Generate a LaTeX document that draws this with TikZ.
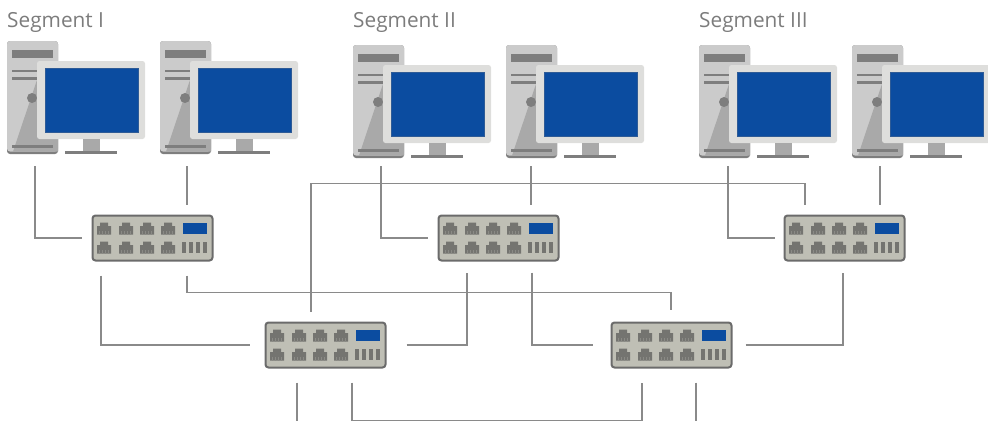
\documentclass[tikz,border=0pt]{standalone}
\usepackage{fontspec}
\setmainfont{Open Sans}
\usetikzlibrary{calc}
\definecolor{wire}{HTML}{8A8A8A}
\definecolor{seglabel}{HTML}{7C7C7C}
\definecolor{towerlight}{HTML}{CBCBCB}
\definecolor{towerdark}{HTML}{A9A9A9}
\definecolor{bardark}{HTML}{7E7E7E}
\definecolor{bezel}{HTML}{DEDEDC}
\definecolor{screenblue}{HTML}{0B4CA0}
\definecolor{swfill}{HTML}{BFBFB5}
\definecolor{swedge}{HTML}{6B6B6B}
\definecolor{portgray}{HTML}{747470}
\tikzset{
  wirepath/.style={draw=wire,line width=1.3pt},
  seglabeltext/.style={text=seglabel,font=\fontsize{20.8}{24}\selectfont,anchor=base west,inner sep=0pt},
  towerbase/.style={fill=bardark,rounded corners=3pt,minimum width=51pt,minimum height=113pt,inner sep=0pt,draw=none},
  switchbox/.style={fill=swfill,draw=swedge,line width=2pt,rounded corners=3pt,minimum width=120pt,minimum height=45pt,inner sep=0pt},
  monitorbox/.style={fill=bezel,rounded corners=2.5pt,minimum width=108pt,minimum height=78pt,inner sep=0pt},
  screenbox/.style={fill=screenblue,draw=screenblue!70!gray,line width=.6pt,minimum width=93pt,minimum height=64pt,inner sep=0pt},
  lcdbox/.style={fill=screenblue,minimum width=24pt,minimum height=11pt,inner sep=0pt},
}
\newcommand{\portglyph}[2]{%
  \fill[portgray] (#1-4,#2-6.5) -- (#1+4,#2-6.5) -- (#1+4,#2-3) -- (#1+7,#2-3) -- (#1+7,#2+5.5) -- (#1-7,#2+5.5) -- (#1-7,#2-3) -- (#1-4,#2-3) -- cycle;
  \foreach \pinx in {-4.5,-1.5,1.5,4.5}{\draw[swfill!30!portgray,line width=.4pt] (#1+\pinx,#2+2) -- (#1+\pinx,#2+5.5);}
}
\newcommand{\computerpic}[3]{%
  \begin{scope}[shift={(#2,#3)}]
    \node[towerbase] (#1) at (25.5,56.5) {};
    \fill[towerlight,rounded corners=3pt] (0,0) rectangle (51,110.5);
    \fill[towerdark] (30,39) -- (6,110.5) -- (51,110.5) -- (51,39) -- cycle;
    \fill[bardark] (5,9) rectangle (46,17);
    \fill[bardark] (5,29) rectangle (30,31);
    \fill[bardark] (5,36) rectangle (30,38.5);
    \fill[bardark] (25,57) circle[radius=5];
    \fill[bardark] (5,104) rectangle (46,106.5);
    \node[monitorbox] (#1m) at (84,59) {};
    \node[screenbox] (#1s) at (84.5,59) {};
    \fill[towerdark] (76,98) rectangle (93,110);
    \fill[bardark] (58,110) rectangle (110,113);
  \end{scope}
}
\newcommand{\switchpic}[3]{%
  \begin{scope}[shift={(#2,#3)}]
    \node[switchbox] (#1) at (60.5,23) {};
    \foreach \portx in {12,34,55,76}{\portglyph{\portx}{14}\portglyph{\portx}{33}}
    \node[lcdbox] (#1l) at (103,13.5) {};
    \foreach \barx in {92,99,106,113}{\fill[portgray] (\barx-1.8,27) rectangle (\barx+1.8,38);}
  \end{scope}
}
\begin{document}
\begin{tikzpicture}[x=1pt,y=-1pt]
\useasboundingbox (0,0) rectangle (988,421);
\node[seglabeltext] (segI) at (7,27) {Segment I};
\node[seglabeltext] (segII) at (353,27) {Segment II};
\node[seglabeltext] (segIII) at (699,27) {Segment III};
\computerpic{pcA}{7}{41}
\computerpic{pcB}{160}{41}
\computerpic{pcC}{353}{45}
\computerpic{pcD}{506}{45}
\computerpic{pcE}{699}{45}
\computerpic{pcF}{852}{45}
\switchpic{swA}{92}{215}
\switchpic{swB}{438}{215}
\switchpic{swC}{784}{215}
\switchpic{swD}{265}{322}
\switchpic{swE}{611}{322}
\coordinate (feedD1) at (297,421);
\coordinate (feedE1) at (696,421);
\draw[wirepath] ([xshift=2.5,yshift=-12]pcA.south) |- ([xshift=-10]swA.west);
\draw[wirepath] ([xshift=1.5,yshift=-12]pcB.south) -- ([xshift=1.5,yshift=10]swA.north -| pcB.south);
\draw[wirepath] ([xshift=2.5,yshift=-8]pcC.south) |- ([xshift=-10]swB.west);
\draw[wirepath] ([xshift=-0.5,yshift=-8]pcD.south) -- ([xshift=-0.5,yshift=10]swB.north -| pcD.south);
\draw[wirepath] ([xshift=3.5,yshift=-8]pcE.south) |- ([xshift=-9]swC.west);
\draw[wirepath] ([xshift=2.5,yshift=-8]pcF.south) -- ([xshift=2.5,yshift=10]swC.north -| pcF.south);
\draw[wirepath] ([xshift=-14.5,yshift=10]swD.north) -- ++(0,-128) -| ([xshift=-39.5,yshift=10]swC.north);
\draw[wirepath] ([xshift=-51.5,yshift=-14]swA.south) |- ([xshift=-15]swD.west);
\draw[wirepath] ([xshift=34.5,yshift=-14]swA.south) -- ++(0,17) -| ([xshift=-0.5,yshift=12]swE.north);
\draw[wirepath] ([xshift=20]swD.east) -| ([xshift=-31.5,yshift=-11]swB.south);
\draw[wirepath] ([xshift=33.5,yshift=-11]swB.south) |- ([xshift=-18]swE.west);
\draw[wirepath] ([xshift=13]swE.east) -| ([xshift=-1.5,yshift=-11]swC.south);
\draw[wirepath] ([xshift=-28.5,yshift=-14]swD.south) -- (feedD1);
\draw[wirepath] ([xshift=26.5,yshift=-14]swD.south) -- ++(0,38) -| ([xshift=-29.5,yshift=-14]swE.south);
\draw[wirepath] ([xshift=24.5,yshift=-14]swE.south) -- (feedE1);
\end{tikzpicture}
\end{document}
